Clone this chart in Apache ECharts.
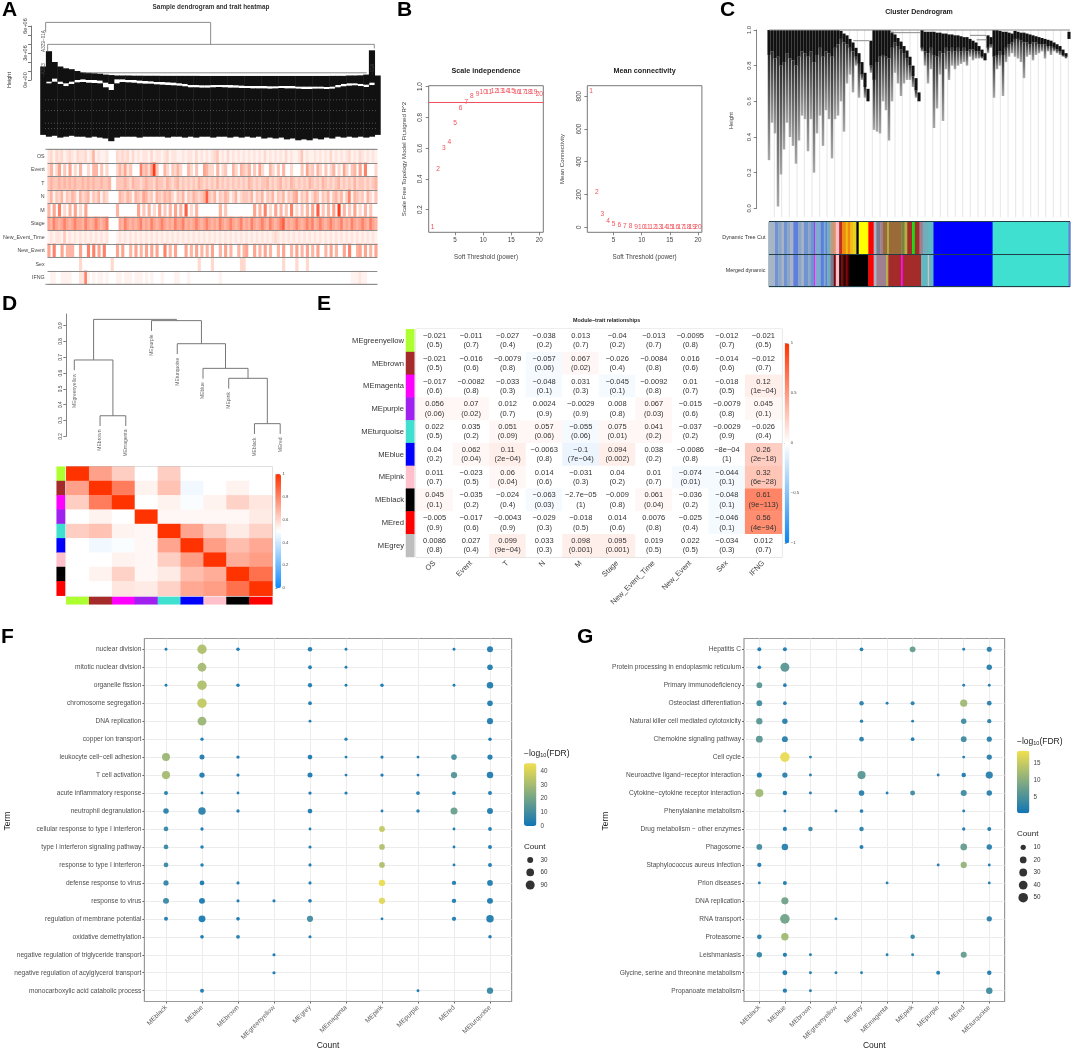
<!DOCTYPE html>
<html><head><meta charset="utf-8">
<script src="https://cdn.jsdelivr.net/npm/echarts@6/dist/echarts.min.js"></script>
<style>html,body{margin:0;padding:0;background:#fff}#c{width:1072px;height:1050px}</style></head>
<body><div id="c"></div>
<script>
/* ---------- panel A ---------- */
const traitTracks=["OS","Event","T","N","M","Stage","New_Event_Time","New_Event","Sex","IFNG"];
const levelOS="2313231232132231251211200"+"0323231312122131221231221"+"1212213121212341213121212"+"1212121312121213121124121"+"1212121312121231213212121";
const levelEvent="3503604060305003055040300"+"0353624000745369400530435"+"3005304006533050340053054"+"3504063005304050030004063"+"4053040350306304506070003";
const levelT="4544545454544545454454450"+"0444543544345443544354345"+"3434343543434353434343434"+"3543434453434534354343435"+"4343543434534343534434345";
const levelN="3514351435415345143514300"+"0054354154365341543545314"+"3514354345843514354135134"+"4351435143514351435614351"+"3541435145351471543415314";
const levelM="5060703050603060000000000"+"0500000006040503060405060"+"5080305000000005040000000"+"0006050703060504070304050"+"6080405060905040603050400";
const levelStage="6576567656766576567656700"+"0065765656756576567656576"+"6756567656765657656765675"+"6576567657656785656765676"+"7567656765675657656765765";
const levelTime="1212214121212121212121200"+"0121212121212121212121212"+"1212121212121212121212121"+"2121212121232121212121212"+"1212121212121212121212121";
const levelNewEvent="6070060555006007070607000"+"0606005060506060600705060"+"0060506050506005060500505"+"6006050605005060050605060"+"5060050605006070056060506";
const levelSex="0000000000003000000000003"+"0000000000000000000000000"+"0000000300003000000000033"+"0000000000000030000300030"+"0000000000000000000000000";
const levelIFNG="0110011110002271010110100"+"0110111011101010001000011"+"0001000000000001000000000"+"0000000000000000000000000"+"0000000000000001112110000";
const trackLevels=[levelOS,levelEvent,levelT,levelN,levelM,levelStage,levelTime,levelNewEvent,levelSex,levelIFNG];
const sampleHeightTicks=[0,1,2,3,4,5,6];
const sampleHeightLabels=[0,3,6];
const sampleMerges=[[137,6.4,632,6.4],[137,6.4,137,5.3],[632,6.4,632,3.96],[143,3.96,1123,3.96],[143,3.96,143,3.2],[1123,3.96,1123,3.5],[250,.8,1100,.8]];
const sampleLeafGaps=[[135,-2.2,1130,-2.2],[135,-3.4,1130,-3.4],[135,-4.8,1130,-4.8],[135,-5.4,1130,-5.4]];
const sampleX=[130,147,164,181,198,215,232,249,266,283,300,317,334,351,368,385,402,419,436,453,470,487,504,521,538,555,572,589,606,623,640,657,674,691,708,725,742,759,776,793,810,827,844,861,878,895,912,929,946,963,980,997,1014,1031,1048,1065,1082,1099,1116,1133];
const sampleTop=[1.5,3.2,2.0,1.5,1.3,1.2,1.0,.85,.8,.75,.7,.6,.55,.5,.5,.5,.48,.48,.47,.47,.47,.46,.46,.46,.46,.46,.46,.46,.45,.45,.45,.45,.45,.45,.45,.45,.45,.45,.45,.45,.45,.45,.45,.45,.45,.45,.45,.45,.45,.45,.45,.46,.46,.46,.5,.5,.52,.6,3.3,.5];
const sampleGapTop=[0,-.19,.15,-.19,-.37,-.19,0,.07,0,0,-.07,-.3,-.44,.07,.07,0,0,-.07,-.11,-.15,-.22,-.22,-.26,-.3,-.37,-.44,-.56,-.56,-.59,-.59,-.56,-.56,-.56,-.56,-.59,-.63,-.67,-.67,-.67,-.67,-.7,-.7,-.67,-.67,-.67,-.74,-.74,-.74,-.74,-.74,-.78,-.74,-.56,-.44,-.37,-.37,-.44,-.52,-.3,0];
const sampleGapBottom=[0,-.37,-.19,-.44,-.67,-.44,-.26,-.22,-.3,-.33,-.37,-.81,-1.11,-.37,-.22,-.26,-.3,-.37,-.41,-.41,-.48,-.52,-.56,-.59,-.63,-.7,-.81,-.81,-.85,-.85,-.81,-.78,-.81,-.85,-.85,-.89,-.89,-.93,-.93,-.93,-.96,-.93,-.89,-.93,-.93,-.96,-1,-1,-.96,-.96,-1,-.96,-.81,-.7,-.63,-.59,-.67,-.78,-.56,0];
const sampleBottom=[-6.1,-6.3,-6.2,-6.4,-6.3,-6.2,-6.3,-6.3,-6.4,-6.3,-6.4,-6.5,-6.8,-6.4,-6.3,-6.3,-6.3,-6.4,-6.3,-6.3,-6.3,-6.3,-6.4,-6.3,-6.3,-6.4,-6.3,-6.4,-6.3,-6.3,-6.4,-6.3,-6.3,-6.4,-6.3,-6.4,-6.3,-6.4,-6.3,-6.5,-6.4,-6.5,-6.4,-6.6,-6.5,-6.7,-6.6,-6.7,-6.5,-6.6,-6.4,-6.5,-6.3,-6.4,-6.3,-6.4,-6.3,-6.4,-6.3,-6.1];

/* ---------- panel B ---------- */
const powers=[1,2,3,4,5,6,7,8,9,10,11,12,13,14,15,16,17,18,19,20];
const scaleFit=[.088,.465,.597,.636,.762,.859,.902,.939,.952,.965,.965,.972,.972,.972,.97,.965,.967,.965,.963,.952];
const meanConnectivity=[832,212,80,37,20,10,8,5,3,2,1.5,1,1,1,1,1,1,1,1,1];
const powerTicks=[5,10,15,20];
const fitTicks=[.2,.4,.6,.8,1];
const connectivityTicks=[0,200,400,600,800];

/* ---------- panel C ---------- */
const clusterGuides=[193,215,238,261,283,306,329,351,374,396,419,442,464,487,510,532,555,577,600,623,645,668,691,713,736,758,781,804,826,849,871,894,917,939,962,985,1007,1030,1052,1075];
const clusterX=[177,186,195,204,213,222,231,240,249,258,267,276,285,294,303,312,321,330,339,348,357,366,375,384,393,402,411,420,429,438,447,456,465,474,483,492,501,510,519,528,537,546,555,564,573,582,591,600,609,618,627,636,645,654,663,672,681,690,699,708,717,726,735,744,753,762,771,780,789,798,807,816,825,834,843,852,861,870,879,888,897,906,915,924,933,942,951,960,969,978,987,996,1005,1014,1023,1032,1041,1050,1059,1068,1077];
const clusterTop=[1,1,1,1,1,1,1,1,1,1,1,1,1,1,1,1,1,1,1,1,1,1,1,1,.995,.98,.97,.95,.93,.9,.87,.82,.76,.67,.94,1,1,1,1,1,1,.99,.975,.955,.935,.91,.885,.85,.8,.73,.65,1,.99,.99,.99,.99,.985,.985,.98,.98,.975,.975,.97,.97,.965,.96,.96,.95,.94,.93,.91,.89,.87,.97,.96,1,1,.995,.99,.99,.985,.98,.995,.99,.985,.985,.98,.975,.97,.965,.96,.955,.95,.945,.94,.93,.92,.91,.89,.87,.99];
const clusterDense=[.86,.88,.84,.85,.8,.82,.87,.84,.83,.8,.85,.88,.87,.85,.88,.82,.86,.9,.85,.88,.87,.85,.9,.92,.95,.93,.92,.9,.88,.85,.81,.75,.68,.6,.8,.72,.82,.85,.86,.85,.84,.9,.93,.91,.89,.87,.84,.8,.74,.66,.6,.9,.88,.87,.9,.86,.85,.88,.87,.9,.88,.9,.88,.9,.88,.9,.88,.89,.89,.88,.88,.85,.83,.9,.92,.85,.86,.88,.86,.9,.92,.93,.95,.95,.94,.93,.93,.92,.93,.93,.92,.92,.92,.91,.91,.9,.89,.88,.86,.85,.95];
const clusterLow=[.27,.48,.42,.01,.19,.33,.48,.4,.35,.25,.38,.52,.5,.32,.5,.2,.42,.52,.35,.55,.5,.28,.5,.52,.6,.43,.7,.75,.65,.8,.62,.72,.62,.6,.76,.44,.43,.42,.6,.55,.38,.6,.76,.7,.63,.7,.72,.72,.68,.62,.6,.88,.8,.7,.78,.45,.56,.75,.49,.78,.72,.8,.78,.8,.81,.82,.8,.85,.83,.84,.84,.84,.83,.87,.9,.62,.78,.8,.63,.82,.85,.87,.85,.84,.82,.73,.85,.86,.83,.86,.87,.88,.84,.88,.86,.88,.87,.86,.85,.84,.95];
const clusterMerges=[[177,1,1080,1],[430,.94,478,.94],[540,.985,632,.985],[780,.97,828,.97],[800,.945,830,.945]];
const clusterTicks=[0,.2,.4,.6,.8,1];
const treeCutRows=["Dynamic Tree Cut","Merged dynamic"];
const dynamicEnds=[[195,"slate"],[205,"corn"],[215,"steel"],[222,"slate"],[232,"corn"],[240,"steel"],[250,"slate"],[265,"royal"],[275,"steel"],[282,"slate"],[295,"corn"],[303,"steel"],[313,"corn"],[316,"purple"],[333,"sky"],[342,"royal"],[347,"sky"],[352,"royal"],[362,"cadet"],[372,"tan"],[378,"salmon"],[388,"pink"],[397,"firebrick"],[408,"orange"],[414,"gold"],[422,"orange"],[430,"gold"],[440,"amber"],[447,"black"],[476,"yellow"],[492,"red"],[500,"slate"],[512,"dusk"],[520,"rosy"],[533,"bronze"],[538,"olive"],[575,"bronze"],[585,"moss"],[593,"olive"],[608,"brown"],[616,"lime"],[630,"brown"],[640,"rosy"],[655,"cadet"],[672,"teal"],[850,"blue"],[1078,"turquoise"],[1083,"royal"]];
const mergedEnds=[[195,"slate"],[205,"corn"],[215,"steel"],[222,"slate"],[232,"corn"],[240,"steel"],[250,"slate"],[265,"royal"],[275,"steel"],[282,"slate"],[295,"corn"],[303,"steel"],[313,"corn"],[316,"magenta"],[333,"sky"],[342,"royal"],[347,"sky"],[352,"royal"],[362,"cadet"],[372,"dusk"],[378,"maroon"],[388,"pink"],[395,"oxblood"],[400,"maroon"],[408,"oxblood"],[414,"maroon"],[420,"oxblood"],[476,"black"],[492,"red"],[500,"slate"],[530,"rosy"],[536,"olive"],[575,"brown"],[580,"magenta"],[635,"brown"],[655,"teal"],[658,"pink"],[672,"teal"],[850,"blue"],[1078,"turquoise"],[1083,"royal"]];
const treeCutStart=177;

/* ---------- panel D ---------- */
const eigenModules=["MEgreenyellow","MEbrown","MEmagenta","MEpurple","MEturquoise","MEblue","MEpink","MEblack","MEred"];
const eigenTicks=[.2,.3,.4,.5,.6,.7,.8,.9];
const eigenMerges=[[1,.265,2,.265,.33],[0,.618,1.5,.33,.683],[7,.215,8,.215,.28],[6,.502,7.5,.28,.567],[5,.565,6.75,.567,.63],[4,.72,5.875,.63,.786],[3,.867,4.94,.786,.932],[.75,.683,3.97,.932,.94]];
const eigenLeafEnds=[.618,.265,.265,.867,.72,.565,.502,.215,.215];
const eigenAdjacency=[
[1,.73,.62,.5,.62,.5,.5,.5,.5],
[.73,1,.82,.53,.65,.47,.5,.53,.5],
[.62,.82,1,.5,.53,.49,.53,.61,.56],
[.5,.53,.5,1,.52,.52,.52,.52,.55],
[.62,.65,.53,.52,1,.72,.62,.55,.61],
[.5,.47,.49,.52,.72,1,.74,.66,.71],
[.5,.5,.53,.52,.62,.74,1,.7,.74],
[.5,.53,.61,.52,.55,.66,.7,1,.85],
[.5,.5,.56,.55,.61,.71,.74,.85,1]];
const adjacencyTicks=[0,.2,.4,.6,.8,1];

/* ---------- panel E ---------- */
const traitModules=["MEgreenyellow","MEbrown","MEmagenta","MEpurple","MEturquoise","MEblue","MEpink","MEblack","MEred","MEgrey"];
const traits=["OS","Event","T","N","M","Stage","New_Event_Time","New_Event","Sex","IFNG"];
const corrText=[
["−0.021","−0.011","−0.027","−0.038","0.013","−0.04","−0.013","−0.0095","−0.012","−0.021"],
["−0.021","−0.016","−0.0079","−0.057","0.067","−0.026","−0.0084","0.016","−0.014","−0.012"],
["−0.017","−0.0082","−0.033","−0.048","0.031","−0.045","−0.0092","0.01","−0.018","0.12"],
["0.056","0.07","0.012","0.0024","−0.0029","0.008","0.067","−0.015","−0.0079","0.045"],
["0.022","0.035","0.051","0.057","−0.055","0.075","0.041","−0.037","−0.0029","−0.026"],
["0.04","0.062","0.11","−0.0063","−0.1","0.094","0.038","−0.0086","−8e−04","0.26"],
["0.011","−0.023","0.06","0.014","−0.031","0.04","0.01","−0.074","−0.044","0.32"],
["0.045","−0.035","−0.024","−0.063","−2.7e−05","−0.009","0.061","−0.036","−0.048","0.61"],
["−0.005","−0.017","−0.0043","−0.029","−0.018","0.014","0.0076","−0.025","−0.046","0.56"],
["0.0086","0.027","0.099","0.033","0.098","0.095","0.019","0.022","−0.034","0.012"]];
const pvalText=[
["0.5","0.7","0.4","0.2","0.7","0.2","0.7","0.8","0.7","0.5"],
["0.5","0.6","0.8","0.06","0.02","0.4","0.8","0.6","0.6","0.7"],
["0.6","0.8","0.3","0.1","0.3","0.1","0.8","0.7","0.5","1e−04"],
["0.06","0.02","0.7","0.9","0.9","0.8","0.03","0.6","0.8","0.1"],
["0.5","0.2","0.09","0.06","0.06","0.01","0.2","0.2","0.9","0.4"],
["0.2","0.04","2e−04","0.8","7e−04","0.002","0.2","0.8","1","2e−18"],
["0.7","0.5","0.04","0.6","0.3","0.2","0.7","0.01","0.1","6e−28"],
["0.1","0.2","0.4","0.03","1","0.8","0.04","0.2","0.1","9e−113"],
["0.9","0.6","0.9","0.3","0.5","0.6","0.8","0.4","0.1","4e−94"],
["0.8","0.4","9e−04","0.3","0.001","0.001","0.5","0.5","0.3","0.7"]];
const corrTicks=[-1,-.5,0,.5,1];
const corrStep=0.04;

/* ---------- panels F and G ---------- */
const enrichModules=["MEblack","MEblue","MEbrown","MEgreenyellow","MEgrey","MEmagenta","MEpink","MEpurple","MEred","MEturquoise"];
const goTerms=["nuclear division","mitotic nuclear division","organelle fission","chromosome segregation","DNA replication","copper ion transport","leukocyte cell−cell adhesion","T cell activation","acute inflammatory response","neutrophil degranulation","cellular response to type I interferon","type I interferon signaling pathway","response to type I interferon","defense response to virus","response to virus","regulation of membrane potential","oxidative demethylation","negative regulation of triglyceride transport","negative regulation of acylglycerol transport","monocarboxylic acid catabolic process"];
/* each row: [module index, count, -log10 FDR] */
const goDots=[
[[0,2,1],[1,100,32],[2,5,1],[4,13,2],[5,2,1],[8,2,1],[9,30,3]],
[[1,85,30],[4,7,2],[5,2,1],[9,25,3]],
[[0,2,1],[1,105,32],[2,5,1],[4,11,2],[5,2,1],[6,5,1],[8,2,1],[9,38,3]],
[[1,100,36],[4,7,2],[9,25,3]],
[[1,85,28],[4,2,1],[9,32,3]],
[[1,4,1],[5,4,2],[9,5,1]],
[[0,66,28],[1,18,3],[2,4,1],[4,15,2],[5,2,1],[6,3,1],[7,2,1],[8,25,11],[9,20,3]],
[[0,70,30],[1,22,3],[2,3,1],[4,18,2],[5,2,1],[6,4,1],[7,2,1],[8,35,13],[9,38,3]],
[[0,8,3],[1,2,1],[2,2,1],[4,4,1],[5,3,1],[7,7,3],[8,7,2],[9,8,2]],
[[0,24,5],[1,55,5],[2,4,1],[4,15,2],[6,2,1],[7,5,2],[8,47,18],[9,30,3]],
[[0,15,8],[1,4,1],[4,2,1],[6,28,36],[8,2,1],[9,7,2]],
[[0,15,8],[1,5,2],[4,3,1],[6,26,32],[8,2,1],[9,8,2]],
[[0,15,8],[1,5,2],[4,3,1],[6,26,32],[8,2,1],[9,8,2]],
[[0,20,7],[1,15,2],[2,3,1],[4,3,1],[6,35,44],[8,11,3],[9,26,3]],
[[0,30,8],[1,30,2],[2,3,1],[3,3,1],[4,6,1],[6,35,42],[8,12,3],[9,30,3]],
[[0,8,2],[1,45,2],[2,6,1],[4,33,10],[6,2,1],[8,11,3],[9,55,3]],
[[1,6,1],[2,7,3],[4,3,1],[9,5,1]],
[[3,3,1]],
[[3,3,1]],
[[1,8,2],[7,2,1],[9,35,8]]];
const goColorTicks=[0,10,20,30,40];
const goCountLegend=[30,60,90];
const keggTerms=["Hepatitis C","Protein processing in endoplasmic reticulum","Primary immunodeficiency","Osteoclast differentiation","Natural killer cell mediated cytotoxicity","Chemokine signaling pathway","Cell cycle","Neuroactive ligand−receptor interaction","Cytokine−cytokine receptor interaction","Phenylalanine metabolism","Drug metabolism − other enzymes","Phagosome","Staphylococcus aureus infection","Prion diseases","DNA replication","RNA transport","Proteasome","Leishmaniasis","Glycine, serine and threonine metabolism","Propanoate metabolism"];
const keggDots=[
[[0,4,1],[1,4,1],[4,3,1],[6,13,7],[8,1,1],[9,9,2]],
[[0,3,1],[1,42,6],[9,11,2]],
[[0,13,6],[1,3,1],[8,1,1],[9,1,1]],
[[0,13,4],[1,3,1],[4,6,2],[5,1,1],[6,4,2],[8,24,12],[9,7,2]],
[[0,17,6],[1,11,2],[4,2,1],[6,1,1],[8,11,4],[9,5,2]],
[[0,21,6],[1,14,2],[4,7,2],[6,3,1],[8,13,4],[9,9,2]],
[[1,50,18],[2,1,1],[8,1,1],[9,10,2]],
[[0,9,1],[1,10,2],[2,1,1],[4,33,6],[7,1,1],[8,6,1],[9,24,2]],
[[0,33,12],[1,6,1],[2,1,1],[4,12,2],[5,1,1],[6,8,4],[8,15,4],[9,11,2]],
[[1,1,1],[3,1,1],[4,3,1],[8,1,1]],
[[1,5,1],[2,6,3],[4,6,2],[8,2,1],[9,4,1]],
[[0,13,4],[1,18,2],[4,4,1],[8,20,7],[9,11,2]],
[[0,5,1],[7,1,1],[8,16,11],[9,1,1]],
[[0,1,1],[1,4,1],[5,1,1],[9,1,1]],
[[1,24,8]],
[[1,50,8],[3,1,1],[9,10,2]],
[[0,7,2],[1,26,12],[6,6,3]],
[[0,11,3],[1,5,1],[2,1,1],[5,1,1],[6,1,1],[8,15,7]],
[[1,8,1],[2,1,1],[3,1,1],[4,1,1],[7,4,1],[9,6,1]],
[[1,5,1],[2,1,1],[9,18,4]]];
const keggColorTicks=[5,10,15];
const keggCountLegend=[10,20,30,40,50];

/* ---------- shared look ---------- */
const moduleColor={greenyellow:"#adff2f",brown:"#a52a2a",magenta:"#ff00ff",purple:"#a020f0",turquoise:"#40e0d0",blue:"#0000ff",pink:"#ffc0cb",black:"#000000",red:"#ff0000",grey:"#bebebe",
 slate:"#a9b4c6",corn:"#6f94d1",steel:"#8ca6c8",royal:"#5f7fdc",sky:"#7dacd0",cadet:"#70aebc",tan:"#c09a80",salmon:"#e0906a",firebrick:"#c03020",orange:"#f08a10",gold:"#f0c010",amber:"#e8d020",yellow:"#ffff00",dusk:"#7a7a90",rosy:"#a08090",bronze:"#9a6a38",olive:"#b0b040",moss:"#7a8040",lime:"#10e010",teal:"#60b8c0",maroon:"#7a0a0a",oxblood:"#300404"};
const FONT="Liberation Sans";
const CLEAR="rgba(0,0,0,0)";
const grids=[],xAxes=[],yAxes=[],series=[],visualMaps=[],texts=[];
function addGrid(left,top,width,height,xa,ya,extra){const i=grids.length;grids.push(Object.assign({left,top,width,height,show:false},extra||{}));
 xAxes.push(Object.assign({gridIndex:i},xa));yAxes.push(Object.assign({gridIndex:i},ya));return i;}
const frame=(c,w)=>({show:true,borderColor:c||"#8a8a8a",borderWidth:w||1,backgroundColor:"transparent"});
const hiddenValue=(min,max,extra)=>Object.assign({type:"value",min,max,show:false},extra||{});
const hiddenCat=(data,extra)=>Object.assign({type:"category",data,show:false},extra||{});
function text(x,y,t,o){o=o||{};texts.push({type:"text",x,y,rotation:o.rot||0,z:20,silent:true,style:{text:t,fontFamily:FONT,fontSize:o.size||6,fontWeight:o.bold?"bold":"normal",fill:o.color||"#333",textAlign:o.align||"center",textVerticalAlign:o.v||"middle",rich:o.rich}});}
function segments(g,data,color,w,dash){series.push({type:"custom",coordinateSystem:"cartesian2d",xAxisIndex:g,yAxisIndex:g,silent:true,animation:false,data,encode:{x:[0,2],y:[1,3]},
 renderItem:(p,api)=>{const a=api.coord([api.value(0),api.value(1)]),b=api.coord([api.value(2),api.value(3)]);return{type:"line",shape:{x1:a[0],y1:a[1],x2:b[0],y2:b[1]},style:{stroke:color,lineWidth:w,lineDash:dash||null}};}});}
function moduleStrip(left,top,w,h,names,horizontal,labels){
 const cats=names.map(n=>n);
 const axisShown=labels?{type:"category",data:cats,inverse:true,axisLine:{show:false},axisTick:{show:false},axisLabel:{fontFamily:FONT,fontSize:7.6,color:"#333",margin:2}}:hiddenCat(cats,{inverse:true});
 const g=horizontal?addGrid(left,top,w,h,hiddenCat(cats),hiddenCat(["m"])):addGrid(left,top,w,h,hiddenCat(["m"]),axisShown);
 const si=series.length;
 series.push({type:"heatmap",xAxisIndex:g,yAxisIndex:g,silent:true,data:names.map((n,i)=>horizontal?[i,0,i]:[0,i,i])});
 visualMaps.push({type:"piecewise",show:false,seriesIndex:si,dimension:2,pieces:names.map((n,i)=>({value:i,color:moduleColor[n.replace("ME","")]}))});
}
function colorBarTicks(left,top,w,h,min,max,ticks,fmt,size,tick){
 addGrid(left,top,w,h,hiddenValue(0,1),{type:"value",min,max,position:"right",axisLine:{show:false},splitLine:{show:false},
  axisTick:{show:!!tick,length:tick||0,lineStyle:{color:"#555",width:.6},customValues:ticks},
  axisLabel:{customValues:ticks,formatter:fmt,fontFamily:FONT,fontSize:size,color:"#444",margin:tick?1.5:4}});
}

/* ---------- A ---------- */
text(2,10,"A",{size:21,bold:true,color:"#000",align:"left"});
text(211,7.5,"Sample dendrogram and trait heatmap",{size:6.4,bold:true});
text(9,80,"Height",{size:5.5,rot:Math.PI/2});
const gA=addGrid(43.3,26,335,54,hiddenValue(130,1135),{type:"value",min:0,max:6,offset:12.3,
 axisLine:{show:true,onZero:false,lineStyle:{color:"#555",width:.8}},splitLine:{show:false},
 axisTick:{length:3,lineStyle:{color:"#555",width:.8},customValues:sampleHeightTicks},
 axisLabel:{customValues:sampleHeightLabels,rotate:90,fontFamily:FONT,fontSize:5.5,color:"#444",margin:3,formatter:v=>v===0?"0e+00":v+"e+06"}});
series.push({type:"custom",coordinateSystem:"cartesian2d",xAxisIndex:gA,yAxisIndex:gA,silent:true,
 data:sampleX.map((x,i)=>[x,sampleTop[i],sampleGapTop[i],sampleGapBottom[i],sampleBottom[i]]),encode:{x:0,y:[1,2,3,4]},
 renderItem:(p,api)=>{const x=api.value(0),w=api.coord([147,0])[0]-api.coord([130,0])[0]+.5;
  const c=v=>api.coord([x,v])[1],xp=api.coord([x,0])[0]-w/2;
  const rect=(t,b)=>({type:"rect",shape:{x:xp,y:c(t),width:w,height:c(b)-c(t)},style:{fill:"#111"}});
  return{type:"group",children:[rect(api.value(1),api.value(2)),rect(api.value(3),api.value(4))]};}});
segments(gA,sampleLeafGaps,"rgba(255,255,255,.4)",.7,[1,2]);
segments(gA,sampleMerges,"#808080",.9);
text(44,41,"A3Z9−01A",{size:4.6,rot:Math.PI/2,color:"#444"});
text(44,70,"−A3Z3",{size:4.6,rot:Math.PI/2,color:"#444"});
text(373,69,"−01A",{size:4.6,rot:Math.PI/2,color:"#444"});
const trackCols=Array.from(trackLevels[0],(c,i)=>i);
const gAT=addGrid(45.3,149.3,332,135,hiddenCat(trackCols),{type:"category",data:traitTracks,inverse:true,z:6,
 axisLine:{show:false},axisTick:{show:false},axisLabel:{fontFamily:FONT,fontSize:5.3,color:"#444",margin:3},splitLine:{show:true,lineStyle:{color:"#8c8c8c",width:1}}},frame("transparent",0));
const trackData=[];trackLevels.forEach((s,r)=>{Array.from(s).forEach((c,i)=>{if(c!=="0")trackData.push([i,r,+c]);});});
visualMaps.push({type:"continuous",show:false,seriesIndex:series.length,dimension:2,min:0,max:9,inRange:{color:["#ffffff","#ffd8ce","#ffa48e","#ff3a1c"]}});
series.push({type:"heatmap",xAxisIndex:gAT,yAxisIndex:gAT,silent:true,data:trackData});
segments(addGrid(45.3,149.3,332,135,hiddenValue(0,1),hiddenValue(0,1)),[[0,0,1,0],[0,1,1,1]],"#8c8c8c",1);

/* ---------- B ---------- */
text(397,10,"B",{size:21,bold:true,color:"#000",align:"left"});
function rPlot(left,title,xname,yname,yMin,yMax,ticks,vals,yfmt,nameX){
 const top=85.7,w=114.6,h=146.6;
 const g=addGrid(left,top,w,h,
  {type:"value",min:.32,max:20.7,splitLine:{show:false},axisLine:{show:false,onZero:false},axisTick:{length:3,lineStyle:{color:"#666",width:.8},customValues:powerTicks},axisLabel:{customValues:powerTicks,fontFamily:FONT,fontSize:6.3,color:"#444",margin:5}},
  {type:"value",min:yMin,max:yMax,splitLine:{show:false},axisLine:{show:false,onZero:false},axisTick:{length:3,lineStyle:{color:"#666",width:.8},customValues:ticks},axisLabel:{customValues:ticks,formatter:yfmt,rotate:90,fontFamily:FONT,fontSize:6.3,color:"#444",margin:5}},
  frame("#777",1));
 const s={type:"scatter",xAxisIndex:g,yAxisIndex:g,silent:true,symbolSize:1,itemStyle:{color:CLEAR},data:powers.map((p,i)=>[p,vals[i]]),
  label:{show:true,position:"inside",formatter:d=>d.data[0],fontFamily:FONT,fontSize:6.6,color:"#f0222e"}};
 series.push(s);
 text(left+w/2,71,title,{size:7.2,bold:true,color:"#222"});
 text(left+w/2,257,xname,{size:6.3,color:"#444"});
 text(nameX,159,yname,{size:6.1,rot:Math.PI/2,color:"#444"});
 return s;
}
const sFit=rPlot(428.7,"Scale independence","Soft Threshold (power)","Scale Free Topology Model Fit,signed R^2",.053,1.006,fitTicks,scaleFit,v=>v.toFixed(1),404);
sFit.markLine={silent:true,symbol:"none",label:{show:false},animation:false,lineStyle:{color:"#f25060",width:1,type:"solid"},data:[{yAxis:.9}]};
rPlot(587.3,"Mean connectivity","Soft Threshold (power)","Mean Connectivity",-31,864,connectivityTicks,meanConnectivity,v=>v,562.7);

/* ---------- C ---------- */
text(720,10,"C",{size:21,bold:true,color:"#000",align:"left"});
text(919,11.7,"Cluster Dendrogram",{size:7,bold:true,color:"#222"});
text(731,120.7,"Height",{size:6,rot:Math.PI/2,color:"#444"});
const gC=addGrid(769,30,301,178.3,hiddenValue(177,1080),{type:"value",min:0,max:1,offset:12.3,
 axisLine:{show:true,onZero:false,lineStyle:{color:"#666",width:.8}},splitLine:{show:false},
 axisTick:{length:3,lineStyle:{color:"#666",width:.8},customValues:clusterTicks},
 axisLabel:{customValues:clusterTicks,rotate:90,formatter:v=>v.toFixed(1),fontFamily:FONT,fontSize:6,color:"#444",margin:4}});
segments(gC,clusterGuides.map(x=>[x,1,x,-.05]),"#e6e6e6",1);
series.push({type:"custom",coordinateSystem:"cartesian2d",xAxisIndex:gC,yAxisIndex:gC,silent:true,
 data:clusterX.map((x,i)=>[x,clusterTop[i],clusterDense[i],clusterLow[i]]),encode:{x:0,y:[1,2,3]},
 renderItem:(p,api)=>{const x=api.value(0),y=v=>api.coord([x,v])[1],px=api.coord([x,0])[0];
  const t=y(api.value(1)),d=y(api.value(2)),l=y(api.value(3));
  return{type:"group",children:[
   {type:"rect",shape:{x:px-1.25,y:d,width:2.5,height:Math.max(0,l-d)},style:{fill:{type:"linear",x:0,y:0,x2:0,y2:1,colorStops:[{offset:0,color:"#2a2a2a"},{offset:1,color:"#a8a8a8"}]}}},
   {type:"rect",shape:{x:px-1.55,y:t,width:3.1,height:Math.max(0,d-t)},style:{fill:"#111"}}]};}});
segments(gC,clusterMerges,"#8a8a8a",1);
const gCS=addGrid(769,221.7,301,65,hiddenValue(177,1083),{type:"category",data:treeCutRows,inverse:true,z:6,axisLine:{show:false},axisTick:{show:false},
 axisLabel:{fontFamily:FONT,fontSize:5.4,color:"#333",margin:3.5},splitLine:{show:true,lineStyle:{color:"#23404a",width:1}}},frame("#4d8a90",1));
const stripData=[];[dynamicEnds,mergedEnds].forEach((track,r)=>{let s=treeCutStart;track.forEach(([e,n])=>{stripData.push([s,e,r,n]);s=e;});});
series.push({type:"custom",coordinateSystem:"cartesian2d",xAxisIndex:gCS,yAxisIndex:gCS,silent:true,z:1,
 data:stripData.map(d=>d.slice(0,3)),encode:{x:[0,1],y:2},
 renderItem:(p,api)=>{const a=api.coord([api.value(0),api.value(2)]),b=api.coord([api.value(1),api.value(2)]),h=api.size([0,1])[1];
  return{type:"rect",shape:{x:a[0],y:a[1]-h/2,width:b[0]-a[0]+.4,height:h},style:{fill:moduleColor[stripData[p.dataIndex][3]]}};}});

/* ---------- D ---------- */
text(2,304,"D",{size:21,bold:true,color:"#000",align:"left"});
const gD=addGrid(74.3,314,205.9,122.3,hiddenValue(0,8),{type:"value",min:.2,max:.974,offset:8,
 axisLine:{show:true,onZero:false,lineStyle:{color:"#666",width:.8}},splitLine:{show:false},
 axisTick:{length:3,lineStyle:{color:"#666",width:.8},customValues:eigenTicks},
 axisLabel:{customValues:eigenTicks,rotate:90,formatter:v=>v.toFixed(1),fontFamily:FONT,fontSize:4.8,color:"#444",margin:3}});
segments(gD,eigenMerges.flatMap(([a,ab,b,bb,h])=>[[a,h,b,h],[a,ab,a,h],[b,bb,b,h]]),"#777",1);
series.push({type:"scatter",xAxisIndex:gD,yAxisIndex:gD,silent:true,clip:false,symbolSize:1,itemStyle:{color:CLEAR},data:eigenLeafEnds.map((h,i)=>[i,h,eigenModules[i]]),
 label:{show:true,position:"bottom",distance:3,rotate:90,align:"right",verticalAlign:"middle",formatter:d=>d.data[2],fontFamily:FONT,fontSize:5,color:"#444"}});
const gDH=addGrid(66.3,466.7,206,129,hiddenCat(eigenModules),hiddenCat(eigenModules,{inverse:true}),frame("#aaa",1));
visualMaps.push({type:"continuous",left:275.3,top:474,itemWidth:5.7,itemHeight:114,padding:0,min:0,max:1,dimension:2,seriesIndex:series.length,calculable:false,hoverLink:false,text:null,inRange:{color:["#0f8cff","#ffffff","#ff3300"]}});
series.push({type:"heatmap",xAxisIndex:gDH,yAxisIndex:gDH,silent:true,data:eigenAdjacency.flatMap((r,j)=>r.map((v,i)=>[i,j,v]))});
moduleStrip(56.7,466.7,8.3,129,eigenModules,false,false);
moduleStrip(66.3,597,206,7.3,eigenModules,true,false);
colorBarTicks(275.3,474,5.7,114,0,1,adjacencyTicks,v=>v===0||v===1?String(v):v.toFixed(1),4.2,2);

/* ---------- E ---------- */
text(317,304,"E",{size:21,bold:true,color:"#000",align:"left"});
text(606.7,320.7,"Module−trait relationships",{size:5.4,bold:true,color:"#222"});
const gE=addGrid(416.3,329.3,365.4,227.7,
 {type:"category",data:traits,axisLine:{show:false},axisTick:{show:false},axisLabel:{rotate:45,interval:0,fontFamily:FONT,fontSize:7.5,color:"#444",margin:5}},
 hiddenCat(traitModules,{inverse:true}),frame("#bdbdbd",1.2));
const parseCorr=s=>Number(s.replace(/−/g,"-"));
const corrData=corrText.flatMap((r,j)=>r.map((s,i)=>{const v=parseCorr(s),q=Math.sign(v)*Math.max(0,Math.ceil(Math.abs(v)/corrStep)-1)*corrStep;return[i,j,q,s,pvalText[j][i]];}));
visualMaps.push({type:"continuous",left:784.7,top:343.3,itemWidth:4.6,itemHeight:200,padding:0,min:-1,max:1,dimension:2,seriesIndex:series.length,calculable:false,hoverLink:false,text:null,inRange:{color:["#0f84ee","#ffffff","#ff3300"]}});
series.push({type:"heatmap",xAxisIndex:gE,yAxisIndex:gE,silent:true,data:corrData,
 label:{show:true,formatter:d=>d.data[3]+"\n("+d.data[4]+")",fontFamily:FONT,fontSize:7.5,lineHeight:9.3,color:"#333"}});
moduleStrip(406,329.3,8.3,227.7,traitModules,false,true);
colorBarTicks(784.7,343.3,4.6,200,-1,1,corrTicks,v=>String(v).replace("-","−"),4.2,2);

/* ---------- F, G ---------- */
function dotPanel(o){
 const g=addGrid(o.left,638.5,o.width,363,
  {type:"value",min:-.6,max:9.6,axisLine:{show:false,onZero:false},splitLine:{show:true,lineStyle:{color:"#ececec",width:1}},
   axisTick:{length:2,lineStyle:{color:"#444",width:.8},customValues:enrichModules.map((m,i)=>i)},
   axisLabel:{customValues:enrichModules.map((m,i)=>i),formatter:v=>enrichModules[v],rotate:45,fontFamily:FONT,fontSize:6.6,color:"#5a5a5a",margin:5}},
  {type:"value",inverse:true,min:-.6,max:19.6,axisLine:{show:false,onZero:false},splitLine:{show:true,lineStyle:{color:"#ececec",width:1}},
   axisTick:{length:2,lineStyle:{color:"#444",width:.8},customValues:o.terms.map((t,i)=>i)},
   axisLabel:{customValues:o.terms.map((t,i)=>i),formatter:v=>o.terms[v],fontFamily:FONT,fontSize:6.6,color:"#4d4d4d",margin:3}},
  frame("#999",1.2));
 const pts=o.dots.flatMap((r,j)=>r.map(d=>[d[0],j,d[1],d[2]]));
 const size=c=>o.sizeBase+o.sizeScale*Math.sqrt(c);
 visualMaps.push({type:"continuous",left:o.barLeft,top:o.barTop,itemWidth:12.4,itemHeight:o.barH,padding:0,min:o.cMin,max:o.cMax,dimension:3,seriesIndex:series.length,calculable:false,hoverLink:false,text:null,inRange:{color:["#1075b5","#f3e04e"]}});
 series.push({type:"scatter",xAxisIndex:g,yAxisIndex:g,silent:true,data:pts,symbolSize:v=>size(v[2]),itemStyle:{opacity:.95},encode:{x:0,y:1}});
 colorBarTicks(o.barLeft,o.barTop,12.4,o.barH,o.cMin,o.cMax,o.cTicks,v=>v,6.3,0);
 text(o.termX,821,"Term",{size:8.5,rot:Math.PI/2,color:"#222"});
 text(o.left+o.width/2,1046,"Count",{size:8.5,color:"#222"});
 text(o.barLeft,o.barTop-9.5,"−log{s|10}(FDR)",{size:8.5,color:"#222",align:"left",rich:{s:{fontSize:5.5,fontFamily:FONT,fill:"#222",padding:[4,0,0,0]}}});
 text(o.barLeft,o.countTop-7,"Count",{size:8,color:"#222",align:"left"});
 const lg=addGrid(o.barLeft,o.countTop,12.4,o.counts.length*o.countStep,hiddenValue(-1,1),
  {type:"category",data:o.counts.map(String),inverse:true,position:"right",axisLine:{show:false},axisTick:{show:false},axisLabel:{fontFamily:FONT,fontSize:6.3,color:"#333",margin:4}});
 series.push({type:"scatter",xAxisIndex:lg,yAxisIndex:lg,silent:true,data:o.counts.map((c,i)=>[0,i,c]),symbolSize:v=>size(v[2]),itemStyle:{color:"#000"},encode:{x:0,y:1}});
}
text(1,637,"F",{size:21,bold:true,color:"#000",align:"left"});
text(577,637,"G",{size:21,bold:true,color:"#000",align:"left"});
dotPanel({left:144.4,width:367.2,terms:goTerms,dots:goDots,sizeBase:1.8,sizeScale:.76,barLeft:524,barTop:763.3,barH:62.7,cMin:0,cMax:45.8,cTicks:goColorTicks,counts:goCountLegend,countTop:853.7,countStep:12.5,termX:8});
dotPanel({left:744,width:260.6,terms:keggTerms,dots:keggDots,sizeBase:1.8,sizeScale:1.1,barLeft:1017,barTop:750.7,barH:62.6,cMin:.1,cMax:18.8,cTicks:keggColorTicks,counts:keggCountLegend,countTop:841,countStep:12.6,termX:606});

const chart=echarts.init(document.getElementById("c"),null,{renderer:"canvas"});
chart.setOption({animation:false,backgroundColor:"#fff",textStyle:{fontFamily:FONT},grid:grids,xAxis:xAxes,yAxis:yAxes,series,visualMap:visualMaps,graphic:{elements:texts}});
</script></body></html>
